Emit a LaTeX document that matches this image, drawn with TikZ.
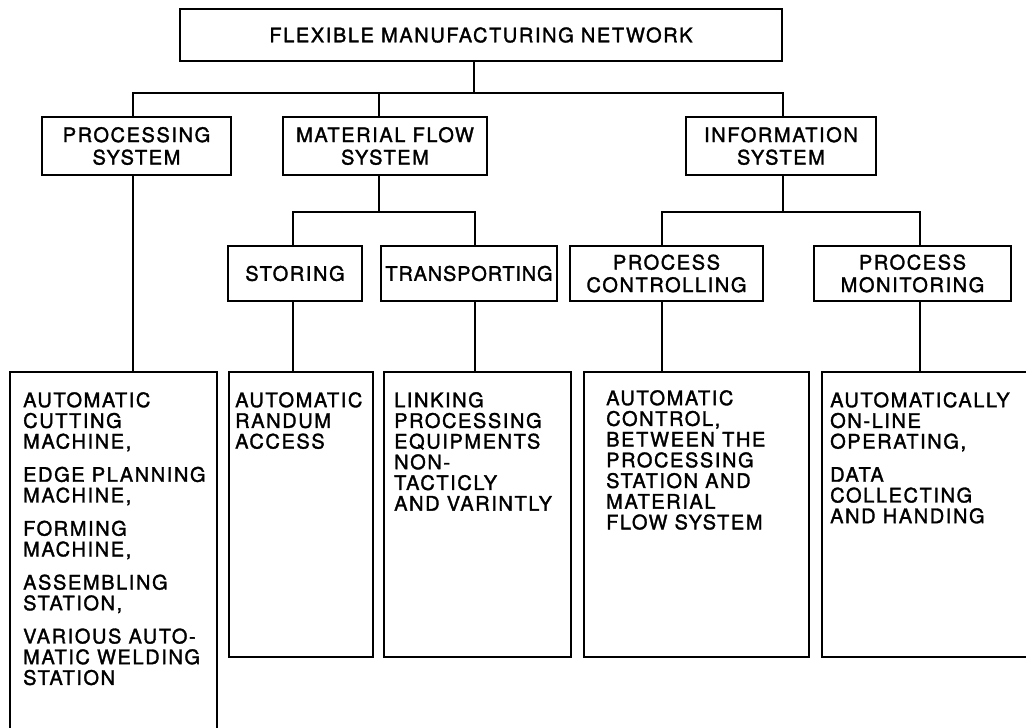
\documentclass[tikz,border=0pt]{standalone}
\usepackage{fontspec}
\newfontfamily\hv[LetterSpace=8,FakeBold=1.6]{TeX Gyre Heros}
\newfontfamily\hvtight[LetterSpace=4,FakeBold=1.6]{TeX Gyre Heros}
\newcommand\hdfont{\hv\fontsize{20}{22.5}\selectfont}
\newcommand\bdfont{\hv\fontsize{20}{20.7}\selectfont}
\begin{document}
\begin{tikzpicture}[x=1pt,y=-1pt,
  box/.style={draw, line width=1.5pt, inner sep=0pt, align=center, font=\hdfont},
  leaf/.style={draw, line width=1.5pt, inner sep=0pt},
  txt/.style={anchor=north west, inner sep=0pt, align=left, font=\bdfont},
  link/.style={line width=1.5pt}]
\useasboundingbox (0,0) rectangle (1026,728);
\clip (0,0) rectangle (1026,728);
% header boxes
\node[box, minimum width=602pt, minimum height=52pt] (top) at (481,35) {FLEXIBLE MANUFACTURING NETWORK};
\node[box, minimum width=189pt, minimum height=58pt] (proc) at (136.5,146) {PROCESSING\\SYSTEM};
\node[box, minimum width=204pt, minimum height=58pt] (mat) at (385,146) {MATERIAL FLOW\\SYSTEM};
\node[box, minimum width=190pt, minimum height=58pt] (info) at (781,146) {INFORMATION\\SYSTEM};
\node[box, minimum width=134pt, minimum height=55pt] (stor) at (295,273.5) {STORING};
\node[box, minimum width=176pt, minimum height=55pt, font=\hvtight\fontsize{20}{22.5}\selectfont] (trans) at (469,273.5) {TRANSPORTING};
\node[box, minimum width=193pt, minimum height=55pt] (pctl) at (666.5,273.5) {PROCESS\\CONTROLLING};
\node[box, minimum width=197pt, minimum height=55pt] (pmon) at (912.5,273.5) {PROCESS\\MONITORING};
% leaf boxes
\node[leaf, minimum width=207pt, minimum height=368pt] (b1) at (113.5,556) {};
\node[leaf, minimum width=144pt, minimum height=285pt] (b2) at (301,514.5) {};
\node[leaf, minimum width=187pt, minimum height=285pt] (b3) at (477.5,514.5) {};
\node[leaf, minimum width=225pt, minimum height=285pt] (b4) at (696.5,514.5) {};
\node[leaf, minimum width=218pt, minimum height=285pt] (b5) at (931,514.5) {};
% leaf texts
\node[txt] (t1) at (23,392) {AUTOMATIC\\CUTTING\\MACHINE,\\[12.5pt]EDGE PLANNING\\MACHINE,\\[12.5pt]FORMING\\MACHINE,\\[12.5pt]ASSEMBLING\\STATION,\\[12.5pt]VARIOUS AUTO-\\MATIC WELDING\\STATION};
\node[txt] (t2) at (235,392) {AUTOMATIC\\RANDUM\\ACCESS};
\node[txt] (t3) at (394,392) {LINKING\\PROCESSING\\EQUIPMENTS\\NON-\\TACTICLY\\AND VARINTLY};
\node[txt] (t4) at (606,390) {AUTOMATIC\\CONTROL,\\BETWEEN THE\\PROCESSING\\STATION AND\\MATERIAL\\FLOW SYSTEM};
\node[txt] (t5) at (830,392) {AUTOMATICALLY\\ON-LINE\\OPERATING,\\[12.5pt]DATA\\COLLECTING\\AND HANDING};
% junction points
\coordinate (jt) at (474,93);
\coordinate (bl) at (133,93);
\coordinate (br) at (783,93);
\coordinate (mc) at (379,212);
\coordinate (ml) at (293,212);
\coordinate (mr) at (475,212);
\coordinate (ic) at (783,212);
\coordinate (il) at (662,212);
\coordinate (ir) at (920,212);
% connectors
\draw[link] (top.south -| jt) -- (jt);
\draw[link] (proc.north -| bl) -- (bl) -- (br) -- (info.north -| br);
\draw[link] (mat.north -| mc) -- (mc |- bl);
\draw[link] (proc.south -| bl) -- (b1.north -| bl);
\draw[link] (mat.south -| mc) -- (mc);
\draw[link] (stor.north -| ml) -- (ml) -- (mr) -- (trans.north -| mr);
\draw[link] (stor.south -| ml) -- (b2.north -| ml);
\draw[link] (trans.south -| mr) -- (b3.north -| mr);
\draw[link] (info.south -| ic) -- (ic);
\draw[link] (pctl.north -| il) -- (il) -- (ir) -- (pmon.north -| ir);
\draw[link] (pctl.south -| il) -- (b4.north -| il);
\draw[link] (pmon.south -| ir) -- (b5.north -| ir);
\end{tikzpicture}
\end{document}
